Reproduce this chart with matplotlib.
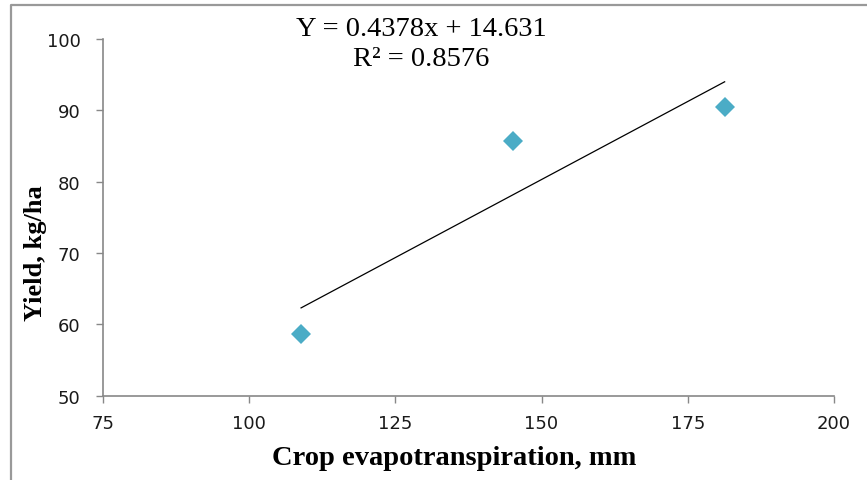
import numpy as np
import matplotlib.pyplot as plt
from matplotlib.lines import Line2D

# crop ET (mm) vs yield (kg/ha)
et = [108.9, 145.1, 181.3]
yield_ = [58.6, 85.7, 90.5]
slope, intercept, r2 = 0.4378, 14.631, 0.8576

x_ticks = [75, 100, 125, 150, 175, 200]
y_ticks = [50, 60, 70, 80, 90, 100]

fig = plt.figure(figsize=(8.67, 4.81), dpi=100)
ax = fig.add_axes([0.1185, 0.1753, 0.8435, 0.7415])

ax.plot(et, yield_, 'D', color='#4bacc6', markersize=10, markeredgewidth=0)

xl = np.array([min(et), max(et)])
ax.plot(xl, slope * xl + intercept, color='black', lw=0.9)

ax.set_xlim(75, 200)
ax.set_ylim(50, 100)
ax.set_xticks(x_ticks)
ax.set_yticks(y_ticks)
ax.tick_params(direction='out', length=5, width=1, color='#888888',
               labelsize=13, labelcolor='#1a1a1a')
ax.tick_params(axis='x', pad=8.5)
ax.tick_params(axis='y', pad=11)
for s in ['top', 'right']:
    ax.spines[s].set_visible(False)
for s in ['left', 'bottom']:
    ax.spines[s].set_color('#888888')
    ax.spines[s].set_linewidth(1.2)

serif = 'Liberation Serif'
ax.set_xlabel('Crop evapotranspiration, mm', family=serif, fontweight='bold',
              fontsize=20.5, va='center')
ax.set_ylabel('Yield, kg/ha', family=serif, fontweight='bold', fontsize=19,
              va='center')
ax.xaxis.set_label_coords(0.48, -0.172)
ax.yaxis.set_label_coords(-0.0926, 0.403)

fig.text(421 / 867, 1 - 30 / 481, 'Y = %.4fx + %.3f' % (slope, intercept),
         family=serif, fontsize=20.5, ha='center', va='center')
fig.text(421 / 867, 1 - 60 / 481, 'R² = %.4f' % r2,
         family=serif, fontsize=20.5, ha='center', va='center')

# outer frame (top and left edges only visible)
fig.add_artist(Line2D([11 / 867, 11 / 867, 1], [0, 1 - 6 / 481, 1 - 6 / 481],
                      transform=fig.transFigure, color='#999999', lw=1.6))

fig.savefig('out.png', dpi=100)
